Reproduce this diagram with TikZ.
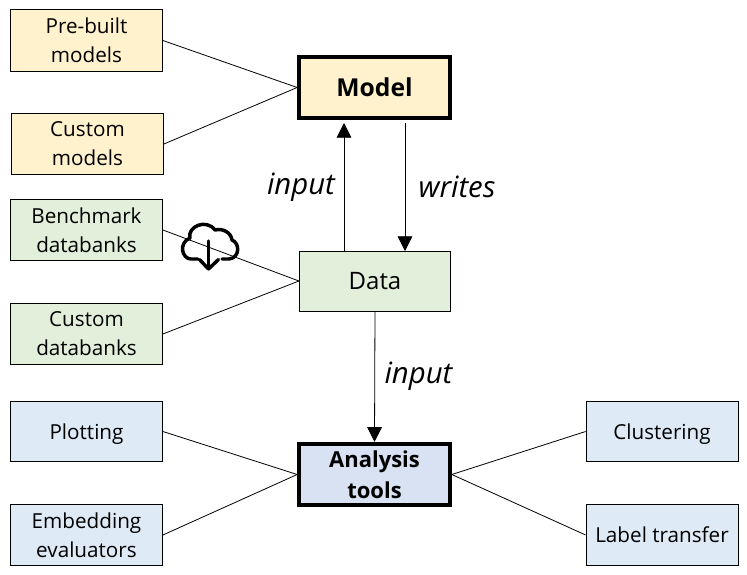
\documentclass[tikz,border=0pt]{standalone}
\usepackage{fontspec}
\setmainfont{Open Sans}
\usetikzlibrary{arrows.meta}
\definecolor{yf}{HTML}{FFF2CC}
\definecolor{gf}{HTML}{E2EFDA}
\definecolor{bf}{HTML}{DEEAF6}
\definecolor{bb}{HTML}{D9E2F3}
\tikzset{
 x=0.75pt,y=-0.75pt,
 box/.style={draw=black,line width=0.6pt,minimum width=114pt,minimum height=46pt,align=center,inner sep=0pt,font=\fontsize{15.5}{21.7}\selectfont},
 hub/.style={box,line width=3pt,minimum width=113pt,minimum height=46pt,font=\fontsize{16.5}{23.5}\selectfont\bfseries},
 link/.style={draw=black,line width=0.6pt},
 flow/.style={link,-{Triangle[length=11pt,width=11pt]}},
 lab/.style={font=\fontsize{22}{26}\selectfont\itshape,inner sep=0pt},
 cloudline/.style={line width=2.6pt,line cap=round,line join=round},
}
\begin{document}
\begin{tikzpicture}
\useasboundingbox (0,0) rectangle (747,575);
\fill[white] (0,0) rectangle (747,575);
\node[box,fill=yf] (pre) at (86.5,40.5) {Pre-built\\models};
\node[box,fill=yf] (cm) at (87.5,144) {Custom\\models};
\node[box,fill=gf] (bd) at (86.5,230) {Benchmark\\databanks};
\node[box,fill=gf] (cd) at (86.5,334) {Custom\\databanks};
\node[box,fill=bf,text depth=0pt,minimum height=44.5pt] (pl) at (86.5,431.5) {Plotting};
\node[box,fill=bf] (ee) at (86.5,535) {Embedding\\evaluators};
\node[box,fill=bf,text depth=0pt,minimum height=44.5pt] (cl) at (662,431.5) {Clustering};
\node[box,fill=bf] (lt) at (662,535) {Label transfer};
\node[hub,fill=yf,font=\fontsize{18.5}{23.5}\selectfont\bfseries] (model) at (374.5,87.5) {Model};
\node[box,fill=gf,minimum width=113.5pt,minimum height=45pt,font=\fontsize{18}{22}\selectfont] (data) at (375,281) {Data};
\node[hub,fill=bb] (an) at (374.5,474.5) {Analysis\\tools};
\draw[link] (pre.east) -- (model.west);
\draw[link] (cm.east) -- (model.west);
\draw[link] (bd.east) -- (data.west);
\draw[link] (cd.east) -- (data.west);
\draw[link] (pl.east) -- (an.west);
\draw[link] (ee.east) -- (an.west);
\draw[link] (cl.west) -- (an.east);
\draw[link] (lt.west) -- (an.east);
\coordinate (mi) at (344,123);
\coordinate (mo) at (405,123);
\draw[flow] (344,251) -- (mi);
\draw[flow] (mo) -- (405,251);
\draw[flow] (data.south) -- (an.north);
\node[lab] at (301,187) {input};
\node[lab] at (457,187) {writes};
\node[lab] at (418.5,376) {input};
\draw[cloudline] (198,259) -- (191,259) .. controls (182,259) and (178,243) .. (190,238) .. controls (187,227) and (206,218) .. (215,230) .. controls (222,228) and (231,232) .. (232,240) .. controls (240,243) and (240,258) .. (229,259) -- (222,259);
\draw[cloudline] (208.5,241) -- (208.5,269);
\draw[cloudline] (199.5,259.5) -- (208.5,269) -- (218.5,259.5);
\end{tikzpicture}
\end{document}
